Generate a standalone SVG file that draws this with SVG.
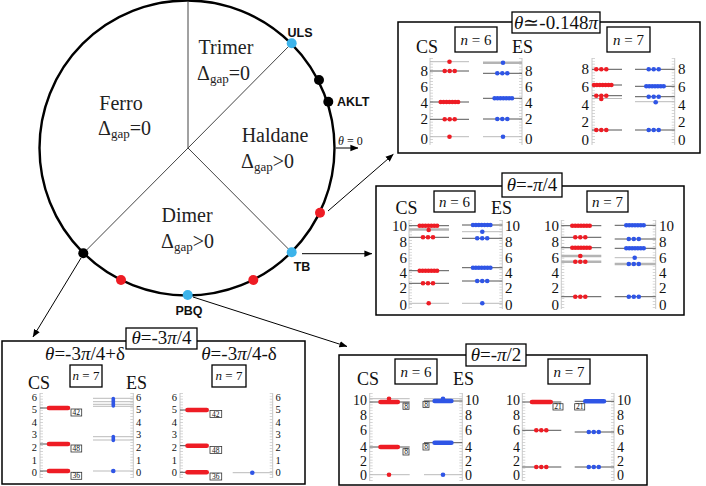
<svg xmlns="http://www.w3.org/2000/svg" xmlns:xlink="http://www.w3.org/1999/xlink" width="706" height="486" viewBox="0 0 706 486">
<style>
.sf{font-family:'Liberation Serif','Times New Roman',serif;fill:#111}
.reg{font-size:20px;fill:#222}
.sub{font-size:13px}
.lab{font-family:'Liberation Sans',Arial,sans-serif;font-weight:bold;font-size:12.5px;fill:#111}
.ttl{font-size:19px}
.nb{font-size:15px}
.cs{font-size:18px}
.tk{font-size:15px}
.tkb{font-size:14px}
.tks{font-size:10.5px}
.bx{fill:#fff;stroke:#000;stroke-width:1.3}
.frame{fill:#fff;stroke:#000;stroke-width:1.5}
.ax{stroke:#c8c8c8;stroke-width:1}
.mt{stroke:#c8c8c8;stroke-width:3;stroke-dasharray:0.7 2.2}
.lv{stroke:#555;stroke-width:1}
.lt{stroke:#bbb;stroke-width:1}
.lg{stroke:#b4b4b4;stroke-width:2.4}
.rb{stroke:#ee1c24;stroke-width:4.6;stroke-linecap:round}
.bb{stroke:#2f55e6;stroke-width:4.6;stroke-linecap:round}
.cb{fill:#fff;stroke:#333;stroke-width:0.8}
.ct{font-family:'Liberation Serif',serif;font-size:7.5px;fill:#111}
.dv{stroke:#444;stroke-width:1;fill:none}
.ar{stroke:#000;stroke-width:1;fill:none}
.e{text-anchor:end}
.m{text-anchor:middle}
</style>
<defs>
<circle id="R" r="2.3" fill="#ee1c24"/>
<circle id="B" r="2.3" fill="#2f55e6"/>
<g id="R3"><use href="#R" x="-5"/><use href="#R"/><use href="#R" x="5"/></g>
<g id="B3"><use href="#B" x="-5"/><use href="#B"/><use href="#B" x="5"/></g>
<g id="R7"><use href="#R" x="-8.7"/><use href="#R" x="-5.8"/><use href="#R" x="-2.9"/><use href="#R"/><use href="#R" x="2.9"/><use href="#R" x="5.8"/><use href="#R" x="8.7"/></g>
<g id="B7"><use href="#B" x="-8.7"/><use href="#B" x="-5.8"/><use href="#B" x="-2.9"/><use href="#B"/><use href="#B" x="2.9"/><use href="#B" x="5.8"/><use href="#B" x="8.7"/></g>
<marker id="ah" viewBox="0 0 10 10" refX="9.5" refY="5" markerWidth="8" markerHeight="8" markerUnits="userSpaceOnUse" orient="auto"><path d="M0,1 L10,5 L0,9 z" fill="#000"/></marker>
</defs>

<g id="phase-circle">
<circle cx="187" cy="148" r="147.5" fill="none" stroke="#000" stroke-width="2.4"/>
<line class="dv" x1="188" y1="148" x2="188" y2="1"/>
<line class="dv" x1="188" y1="148" x2="291.7" y2="43.3"/>
<line class="dv" x1="188" y1="148" x2="291.7" y2="252.3"/>
<line class="dv" x1="188" y1="148" x2="83.3" y2="253.3"/>
</g>
<g id="regions" class="sf reg">
<text x="226" y="54" class="m">Trimer</text>
<text x="197" y="80">Δ<tspan class="sub" dy="3">gap</tspan><tspan dy="-3">=0</tspan></text>
<text x="121" y="110" class="m">Ferro</text>
<text x="98" y="135">Δ<tspan class="sub" dy="3">gap</tspan><tspan dy="-3">=0</tspan></text>
<text x="275" y="142" class="m">Haldane</text>
<text x="241" y="168">Δ<tspan class="sub" dy="3">gap</tspan><tspan dy="-3">&gt;0</tspan></text>
<text x="187" y="222" class="m">Dimer</text>
<text x="161" y="248">Δ<tspan class="sub" dy="3">gap</tspan><tspan dy="-3">&gt;0</tspan></text>
</g>
<g id="points">
<circle cx="291.7" cy="43.3" r="5" fill="#3cb3ea"/>
<circle cx="319" cy="80" r="5" fill="#000"/>
<circle cx="328.3" cy="101.7" r="5" fill="#000"/>
<circle cx="320" cy="212.7" r="5" fill="#ee1c24"/>
<circle cx="291.7" cy="252.3" r="5" fill="#3cb3ea"/>
<circle cx="253.3" cy="280" r="5" fill="#ee1c24"/>
<circle cx="187.7" cy="295" r="5" fill="#3cb3ea"/>
<circle cx="121" cy="280" r="5" fill="#ee1c24"/>
<circle cx="83.3" cy="253.3" r="5" fill="#000"/>
<text class="lab m" x="300" y="37">ULS</text>
<text class="lab" x="337" y="106">AKLT</text>
<text class="lab m" x="302" y="271">TB</text>
<text class="lab m" x="189" y="314.5">PBQ</text>
<text class="sf" x="338" y="145" font-size="12" fill="#333"><tspan font-style="italic">θ</tspan> = 0</text>
</g>

<g id="connectors">
<line class="ar" x1="336" y1="148" x2="358" y2="148" marker-end="url(#ah)"/>
<line class="ar" x1="328" y1="211" x2="393.3" y2="154.3" marker-end="url(#ah)"/>
<line class="ar" x1="302" y1="253.7" x2="372" y2="253.7" marker-end="url(#ah)"/>
<line class="ar" x1="81" y1="258" x2="33" y2="337" marker-end="url(#ah)"/>
<line class="ar" x1="193" y1="297" x2="347" y2="346.5" marker-end="url(#ah)"/>
</g>

<g id="box-0148">
<rect class="frame" x="398" y="22" width="302" height="131"/>
<rect class="bx" x="512" y="12" width="88" height="21"/>
<text class="sf ttl m" x="556" y="29"><tspan font-style="italic">θ</tspan>≃-0.148<tspan font-style="italic">π</tspan></text>
<rect class="bx" x="455" y="27" width="42" height="25"/>
<text class="sf nb m" x="476" y="45"><tspan font-style="italic">n</tspan> = 6</text>
<rect class="bx" x="607" y="27" width="43" height="25"/>
<text class="sf nb m" x="628.5" y="45"><tspan font-style="italic">n</tspan> = 7</text>
<text class="sf cs" x="416" y="53">CS</text>
<text class="sf cs" x="512" y="53">ES</text>
<line class="ax" x1="430" y1="58" x2="430" y2="145"/><line class="mt" x1="431.5" y1="58" x2="431.5" y2="145"/>
<g class="sf tk e"><text x="428" y="76">8</text><text x="428" y="92">6</text><text x="428" y="108">4</text><text x="428" y="124">2</text><text x="428" y="144">0</text></g>
<line class="lt" x1="430" y1="61.7" x2="469" y2="61.7"/><line class="lv" x1="430" y1="71" x2="469" y2="71"/><line class="lv" x1="430" y1="102" x2="469" y2="102"/><line class="lv" x1="430" y1="119.3" x2="469" y2="119.3"/><line class="lt" x1="430" y1="136.7" x2="469" y2="136.7"/>
<use href="#R" x="449.5" y="61.7"/><use href="#R3" x="449.7" y="71"/><use href="#R7" x="449.4" y="102"/><use href="#R3" x="449.7" y="119.3"/><use href="#R" x="449.5" y="136.7"/>
<line class="ax" x1="522" y1="58" x2="522" y2="145"/><line class="mt" x1="520.5" y1="58" x2="520.5" y2="145"/>
<g class="sf tk"><text x="525" y="76">8</text><text x="525" y="92">6</text><text x="525" y="108">4</text><text x="525" y="124">2</text><text x="525" y="144">0</text></g>
<line class="lg" x1="483" y1="62.7" x2="522" y2="62.7"/><line class="lv" x1="483" y1="73.3" x2="522" y2="73.3"/><line class="lv" x1="483" y1="98.3" x2="522" y2="98.3"/><line class="lv" x1="483" y1="119" x2="522" y2="119"/><line class="lt" x1="483" y1="136.7" x2="522" y2="136.7"/>
<use href="#B" x="503" y="62.7"/><use href="#B3" x="502.3" y="73.3"/><use href="#B7" x="503.3" y="98.3"/><use href="#B3" x="502.3" y="119"/><use href="#B" x="503" y="136.7"/>
<line class="ax" x1="592" y1="58" x2="592" y2="145"/><line class="mt" x1="593.5" y1="58" x2="593.5" y2="145"/>
<g class="sf tk e"><text x="589" y="74">8</text><text x="589" y="92">6</text><text x="589" y="110">4</text><text x="589" y="127">2</text><text x="589" y="145">0</text></g>
<line class="lv" x1="592" y1="69.3" x2="622" y2="69.3"/><line class="lv" x1="592" y1="85" x2="622" y2="85"/><line class="lv" x1="592" y1="95.7" x2="622" y2="95.7"/><line class="lt" x1="592" y1="98.5" x2="622" y2="98.5"/><line class="lv" x1="592" y1="130" x2="622" y2="130"/>
<use href="#R3" x="601.3" y="69.3"/><use href="#R7" x="602.7" y="85"/><use href="#R3" x="601.3" y="95.7"/><use href="#R" x="601.3" y="99"/><use href="#R3" x="601.3" y="130"/>
<line class="ax" x1="674.7" y1="58" x2="674.7" y2="145"/><line class="mt" x1="673.2" y1="58" x2="673.2" y2="145"/>
<g class="sf tk"><text x="678" y="74">8</text><text x="678" y="92">6</text><text x="678" y="110">4</text><text x="678" y="127">2</text><text x="678" y="145">0</text></g>
<line class="lv" x1="635" y1="69.3" x2="674.7" y2="69.3"/><line class="lv" x1="635" y1="86.3" x2="674.7" y2="86.3"/><line class="lv" x1="635" y1="96.7" x2="674.7" y2="96.7"/><line class="lt" x1="635" y1="101.7" x2="674.7" y2="101.7"/><line class="lv" x1="635" y1="130" x2="674.7" y2="130"/>
<use href="#B3" x="653.7" y="69.3"/><use href="#B7" x="655" y="86.3"/><use href="#B3" x="653.7" y="96.7"/><use href="#B" x="655.7" y="102.3"/><use href="#B3" x="653.7" y="130"/>
</g>

<g id="box-pi4">
<rect class="frame" x="376" y="186" width="308" height="129"/>
<rect class="bx" x="502" y="173" width="60" height="24"/>
<text class="sf ttl m" x="532" y="191"><tspan font-style="italic">θ</tspan>=-<tspan font-style="italic">π</tspan>/4</text>
<rect class="bx" x="434" y="191" width="41" height="21"/>
<text class="sf nb m" x="454.5" y="207"><tspan font-style="italic">n</tspan> = 6</text>
<rect class="bx" x="587" y="191" width="41" height="21"/>
<text class="sf nb m" x="607.5" y="207"><tspan font-style="italic">n</tspan> = 7</text>
<text class="sf cs" x="395.5" y="214">CS</text>
<text class="sf cs" x="491" y="214">ES</text>
<line class="ax" x1="409" y1="220" x2="409" y2="309"/><line class="mt" x1="410.5" y1="220" x2="410.5" y2="309"/>
<g class="sf tk e"><text x="407" y="231">10</text><text x="407" y="247">8</text><text x="407" y="263">6</text><text x="407" y="278">4</text><text x="407" y="293">2</text><text x="407" y="310">0</text></g>
<line class="lv" x1="409" y1="225.7" x2="449" y2="225.7"/><line class="lg" x1="409" y1="229.5" x2="449" y2="229.5"/><line class="lv" x1="409" y1="237.3" x2="449" y2="237.3"/><line class="lv" x1="409" y1="270.7" x2="449" y2="270.7"/><line class="lv" x1="409" y1="283.3" x2="449" y2="283.3"/><line class="lt" x1="409" y1="303.3" x2="449" y2="303.3"/>
<use href="#R7" x="428.4" y="225.7"/><use href="#R" x="428.7" y="230"/><use href="#R3" x="428" y="237.3"/><use href="#R7" x="428.4" y="270.7"/><use href="#R3" x="428" y="283.3"/><use href="#R" x="428.7" y="303.3"/>
<line class="ax" x1="502.3" y1="220" x2="502.3" y2="309"/><line class="mt" x1="500.8" y1="220" x2="500.8" y2="309"/>
<g class="sf tk"><text x="505" y="231">10</text><text x="505" y="247">8</text><text x="505" y="263">6</text><text x="505" y="278">4</text><text x="505" y="293">2</text><text x="505" y="310">0</text></g>
<line class="lv" x1="462" y1="225" x2="502.3" y2="225" stroke="#222"/><line class="lt" x1="462" y1="231.7" x2="502.3" y2="231.7"/><line class="lv" x1="462" y1="238.3" x2="502.3" y2="238.3"/><line class="lv" x1="462" y1="267.7" x2="502.3" y2="267.7"/><line class="lv" x1="462" y1="281" x2="502.3" y2="281"/><line class="lt" x1="462" y1="303.3" x2="502.3" y2="303.3"/>
<use href="#B7" x="481.7" y="225"/><use href="#B" x="482.3" y="231.7"/><use href="#B3" x="482.2" y="238.3"/><use href="#B7" x="481.7" y="267.7"/><use href="#B3" x="482.2" y="281"/><use href="#B" x="482.3" y="303.3"/>
<line class="ax" x1="561.3" y1="220" x2="561.3" y2="309"/><line class="mt" x1="562.8" y1="220" x2="562.8" y2="309"/>
<g class="sf tk e"><text x="559" y="231">10</text><text x="559" y="247">8</text><text x="559" y="263">6</text><text x="559" y="278">4</text><text x="559" y="293">2</text><text x="559" y="310">0</text></g>
<line class="lv" x1="561.3" y1="225.7" x2="601.3" y2="225.7"/><line class="lv" x1="561.3" y1="237.3" x2="601.3" y2="237.3"/><line class="lv" x1="561.3" y1="247.7" x2="601.3" y2="247.7" stroke="#333"/><line class="lg" x1="561.3" y1="256" x2="601.3" y2="256" stroke="#ccc"/><line class="lg" x1="561.3" y1="261.7" x2="601.3" y2="261.7" stroke="#999"/><line class="lv" x1="561.3" y1="296.7" x2="601.3" y2="296.7"/>
<use href="#R7" x="581" y="225.7"/><use href="#R3" x="580.3" y="237.3"/><use href="#R7" x="581" y="247.7"/><use href="#R" x="580.3" y="256"/><use href="#R3" x="580.3" y="261.7"/><use href="#R3" x="580.3" y="296.7"/>
<line class="ax" x1="655.7" y1="220" x2="655.7" y2="309"/><line class="mt" x1="654.2" y1="220" x2="654.2" y2="309"/>
<g class="sf tk"><text x="659" y="231">10</text><text x="659" y="247">8</text><text x="659" y="263">6</text><text x="659" y="278">4</text><text x="659" y="293">2</text><text x="659" y="310">0</text></g>
<line class="lv" x1="614.7" y1="225.3" x2="655.7" y2="225.3" stroke="#222"/><line class="lv" x1="614.7" y1="239" x2="655.7" y2="239"/><line class="lv" x1="614.7" y1="248.3" x2="655.7" y2="248.3"/><line class="lt" x1="614.7" y1="257.7" x2="655.7" y2="257.7"/><line class="lg" x1="614.7" y1="264" x2="655.7" y2="264" stroke="#999"/><line class="lv" x1="614.7" y1="296.7" x2="655.7" y2="296.7"/>
<use href="#B7" x="635" y="225.3"/><use href="#B3" x="633.8" y="239"/><use href="#B7" x="635" y="248.3"/><use href="#B" x="634.7" y="257.7"/><use href="#B3" x="633.8" y="264"/><use href="#B3" x="633.8" y="296.7"/>
</g>

<g id="box-3pi4">
<rect class="frame" x="2" y="341" width="303" height="143"/>
<rect class="bx" x="126" y="328" width="71" height="21"/>
<text class="sf ttl m" x="161.5" y="344"><tspan font-style="italic">θ</tspan>=-3<tspan font-style="italic">π</tspan>/4</text>
<text class="sf ttl m" x="85" y="360"><tspan font-style="italic">θ</tspan>=-3<tspan font-style="italic">π</tspan>/4+δ</text>
<text class="sf ttl m" x="239" y="360"><tspan font-style="italic">θ</tspan>=-3<tspan font-style="italic">π</tspan>/4-δ</text>
<rect class="bx" x="70" y="365" width="32" height="22"/>
<text class="sf m" font-size="13" x="86" y="380"><tspan font-style="italic">n</tspan> = 7</text>
<rect class="bx" x="212" y="365" width="34" height="22"/>
<text class="sf m" font-size="13" x="229" y="380"><tspan font-style="italic">n</tspan> = 7</text>
<text class="sf cs" x="28" y="389">CS</text>
<text class="sf cs" x="126" y="389">ES</text>
<line class="ax" x1="40" y1="393" x2="40" y2="478"/><line class="mt" x1="41.5" y1="393" x2="41.5" y2="478"/>
<g class="sf tks e"><text x="37" y="400.7">6</text><text x="37" y="413">5</text><text x="37" y="425.7">4</text><text x="37" y="438">3</text><text x="37" y="450.7">2</text><text x="37" y="464">1</text><text x="37" y="476.3">0</text></g>
<line class="lv" x1="40" y1="408" x2="70" y2="408"/><line class="lv" x1="40" y1="444" x2="70" y2="444" stroke-width="2"/><line class="lv" x1="40" y1="471" x2="70" y2="471"/>
<line class="rb" x1="49" y1="408" x2="68" y2="408"/><line class="rb" x1="49" y1="444" x2="68" y2="444"/><line class="rb" x1="49" y1="471" x2="68" y2="471"/>
<rect class="cb" x="71" y="409" width="10.7" height="7"/><text class="ct m" x="76.3" y="415">42</text>
<rect class="cb" x="71" y="445" width="10.7" height="7"/><text class="ct m" x="76.3" y="451">48</text>
<rect class="cb" x="71" y="472.3" width="10.7" height="7"/><text class="ct m" x="76.3" y="478.3">36</text>
<line class="ax" x1="133.3" y1="393" x2="133.3" y2="478"/><line class="mt" x1="131.8" y1="393" x2="131.8" y2="478"/>
<g class="sf tks"><text x="136" y="400.7">6</text><text x="136" y="413">5</text><text x="136" y="425.7">4</text><text x="136" y="438">3</text><text x="136" y="450.7">2</text><text x="136" y="464">1</text><text x="136" y="476.3">0</text></g>
<line class="lt" x1="93" y1="398.3" x2="133.3" y2="398.3"/><line class="lt" x1="93" y1="401.7" x2="133.3" y2="401.7"/><line class="lt" x1="93" y1="404.3" x2="133.3" y2="404.3"/><line class="lt" x1="93" y1="406.3" x2="133.3" y2="406.3"/>
<line class="lt" x1="93" y1="436.7" x2="133.3" y2="436.7"/><line class="lt" x1="93" y1="440" x2="133.3" y2="440"/><line class="lt" x1="93" y1="471" x2="133.3" y2="471"/>
<line stroke="#2f55e6" stroke-width="3.6" stroke-linecap="round" x1="113.3" y1="398.5" x2="113.3" y2="406"/>
<line stroke="#2f55e6" stroke-width="3.6" stroke-linecap="round" x1="113.3" y1="436.5" x2="113.3" y2="440.5"/>
<use href="#B" x="113.3" y="471"/>
<line class="ax" x1="180" y1="393" x2="180" y2="478"/><line class="mt" x1="181.5" y1="393" x2="181.5" y2="478"/>
<g class="sf tks e"><text x="177" y="400.7">6</text><text x="177" y="413">5</text><text x="177" y="425.7">4</text><text x="177" y="438">3</text><text x="177" y="450.7">2</text><text x="177" y="464">1</text><text x="177" y="476.3">0</text></g>
<line class="lv" x1="180" y1="410" x2="208" y2="410"/><line class="lv" x1="180" y1="445.7" x2="208" y2="445.7" stroke-width="2"/><line class="lv" x1="180" y1="472.3" x2="208" y2="472.3"/>
<line class="rb" x1="187.5" y1="410" x2="206.7" y2="410"/><line class="rb" x1="187.5" y1="445.7" x2="206.7" y2="445.7"/><line class="rb" x1="187.5" y1="472.3" x2="206.7" y2="472.3"/>
<rect class="cb" x="210" y="410.5" width="11.7" height="7"/><text class="ct m" x="215.8" y="416.5">42</text>
<rect class="cb" x="210" y="446.5" width="11.7" height="7"/><text class="ct m" x="215.8" y="452.5">48</text>
<rect class="cb" x="210" y="473" width="11.7" height="7"/><text class="ct m" x="215.8" y="479">36</text>
<line class="ax" x1="272.7" y1="393" x2="272.7" y2="478"/><line class="mt" x1="271.2" y1="393" x2="271.2" y2="478"/>
<g class="sf tks"><text x="275.5" y="400.7">6</text><text x="275.5" y="413">5</text><text x="275.5" y="425.7">4</text><text x="275.5" y="438">3</text><text x="275.5" y="450.7">2</text><text x="275.5" y="464">1</text><text x="275.5" y="476.3">0</text></g>
<line class="lt" x1="232.7" y1="472.7" x2="272.7" y2="472.7"/>
<use href="#B" x="252.3" y="472.7"/>
</g>

<g id="box-pi2">
<rect class="frame" x="339" y="355" width="308" height="130"/>
<rect class="bx" x="466" y="344" width="60" height="22"/>
<text class="sf ttl m" x="496" y="361"><tspan font-style="italic">θ</tspan>=-<tspan font-style="italic">π</tspan>/2</text>
<rect class="bx" x="395" y="359" width="42" height="25"/>
<text class="sf nb m" x="416" y="377"><tspan font-style="italic">n</tspan> = 6</text>
<rect class="bx" x="548" y="359" width="42" height="25"/>
<text class="sf nb m" x="569" y="377"><tspan font-style="italic">n</tspan> = 7</text>
<text class="sf cs" x="357" y="385">CS</text>
<text class="sf cs" x="453" y="385">ES</text>
<line class="ax" x1="369.7" y1="393" x2="369.7" y2="481"/><line class="mt" x1="371.2" y1="393" x2="371.2" y2="481"/>
<g class="sf tkb e"><text x="367" y="405">10</text><text x="367" y="420">8</text><text x="367" y="435">6</text><text x="367" y="451.5">4</text><text x="367" y="466">2</text><text x="367" y="480">0</text></g>
<line class="lt" x1="369.7" y1="398.7" x2="409.7" y2="398.7"/><line class="lv" x1="369.7" y1="402" x2="409.7" y2="402"/><line class="lv" x1="369.7" y1="447" x2="409.7" y2="447"/><line class="lt" x1="369.7" y1="474.7" x2="409.7" y2="474.7"/>
<line class="rb" x1="380.5" y1="402" x2="397.8" y2="402"/><use href="#R" x="389" y="398.7"/><line class="rb" x1="380.5" y1="447" x2="397.8" y2="447"/><use href="#R" x="389" y="474.7"/>
<rect class="cb" x="403" y="403" width="6" height="6.3"/><text class="ct m" x="406" y="408.6">8</text>
<rect class="cb" x="403" y="448.7" width="6" height="6.3"/><text class="ct m" x="406" y="454.3">8</text>
<line class="ax" x1="462.3" y1="393" x2="462.3" y2="481"/><line class="mt" x1="460.8" y1="393" x2="460.8" y2="481"/>
<g class="sf tkb"><text x="465" y="405">10</text><text x="465" y="420">8</text><text x="465" y="435">6</text><text x="465" y="451.5">4</text><text x="465" y="466">2</text><text x="465" y="480">0</text></g>
<line class="lt" x1="424" y1="398.7" x2="462.3" y2="398.7"/><line class="lv" x1="424" y1="401" x2="462.3" y2="401"/><line class="lv" x1="424" y1="442.7" x2="462.3" y2="442.7"/><line class="lt" x1="424" y1="474.7" x2="462.3" y2="474.7"/>
<line class="bb" x1="434.6" y1="401" x2="451.4" y2="401"/><use href="#B" x="443" y="398.7"/><line class="bb" x1="434.6" y1="442.7" x2="451.4" y2="442.7"/><use href="#B" x="443" y="474.7"/>
<rect class="cb" x="423" y="401.3" width="6" height="6.3"/><text class="ct m" x="426" y="406.9">8</text>
<rect class="cb" x="423" y="443.7" width="6" height="6.3"/><text class="ct m" x="426" y="449.3">8</text>
<line class="ax" x1="522.3" y1="393" x2="522.3" y2="481"/><line class="mt" x1="523.8" y1="393" x2="523.8" y2="481"/>
<g class="sf tkb e"><text x="520" y="405">10</text><text x="520" y="420">8</text><text x="520" y="435">6</text><text x="520" y="451.5">4</text><text x="520" y="466">2</text><text x="520" y="480">0</text></g>
<line class="lv" x1="522.3" y1="402" x2="561.3" y2="402"/><line class="lv" x1="522.3" y1="430.3" x2="561.3" y2="430.3"/><line class="lv" x1="522.3" y1="467" x2="561.3" y2="467"/>
<line class="rb" x1="532" y1="402" x2="550.7" y2="402"/><use href="#R3" x="541.3" y="430.3"/><use href="#R3" x="541.3" y="467"/>
<rect class="cb" x="553" y="403.7" width="10" height="6.3"/><text class="ct m" x="558" y="409.3">21</text>
<line class="ax" x1="614" y1="393" x2="614" y2="481"/><line class="mt" x1="612.5" y1="393" x2="612.5" y2="481"/>
<g class="sf tkb"><text x="617" y="405">10</text><text x="617" y="420">8</text><text x="617" y="435">6</text><text x="617" y="451.5">4</text><text x="617" y="466">2</text><text x="617" y="480">0</text></g>
<line class="lv" x1="574.7" y1="401.3" x2="614" y2="401.3" stroke-width="2"/><line class="lv" x1="574.7" y1="432" x2="614" y2="432"/><line class="lv" x1="574.7" y1="467" x2="614" y2="467"/>
<line class="bb" x1="585.3" y1="401.3" x2="604" y2="401.3"/><use href="#B3" x="593.8" y="432"/><use href="#B3" x="593.8" y="467"/>
<rect class="cb" x="574.7" y="403.7" width="10" height="6.3"/><text class="ct m" x="579.7" y="409.3">21</text>
</g>
</svg>
